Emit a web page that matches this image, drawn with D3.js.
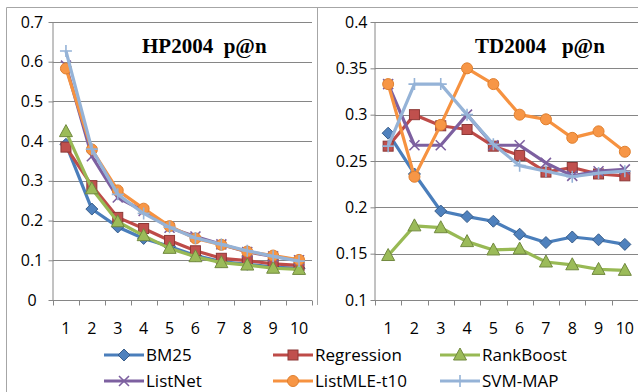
<!DOCTYPE html><meta charset="utf-8">
<style>*{margin:0}body{background:#fff}text{font-family:"Open Sans",sans-serif;fill:#000}</style>
<svg width="638" height="392"></svg>
<script src="https://d3js.org/d3.v7.min.js"></script>
<script>
const ranks = [1,2,3,4,5,6,7,8,9,10];
const names = ["BM25","Regression","RankBoost","ListNet","ListMLE-t10","SVM-MAP"];

// HP2004 p@n
const hpBM25       = [0.392,0.229,0.184,0.155,0.135,0.112,0.097,0.090,0.083,0.080];
const hpRegression = [0.385,0.288,0.208,0.180,0.150,0.124,0.105,0.099,0.091,0.087];
const hpRankBoost  = [0.424,0.280,0.197,0.162,0.130,0.109,0.094,0.088,0.080,0.077];
const hpListNet    = [0.590,0.362,0.258,0.224,0.182,0.160,0.140,0.121,0.110,0.100];
const hpListMLE    = [0.583,0.379,0.276,0.230,0.186,0.155,0.139,0.122,0.112,0.101];
const hpSVMMAP     = [0.627,0.380,0.266,0.218,0.183,0.156,0.140,0.124,0.110,0.098];

// TD2004 p@n
const tdBM25       = [0.280,0.236,0.196,0.190,0.185,0.171,0.162,0.168,0.165,0.160];
const tdRegression = [0.266,0.300,0.288,0.284,0.266,0.256,0.238,0.243,0.236,0.234];
const tdRankBoost  = [0.148,0.180,0.178,0.163,0.154,0.155,0.141,0.138,0.133,0.132];
const tdListNet    = [0.333,0.267,0.267,0.300,0.267,0.267,0.248,0.234,0.239,0.241];
const tdListMLE    = [0.333,0.233,0.289,0.350,0.333,0.300,0.295,0.275,0.282,0.260];
const tdSVMMAP     = [0.266,0.333,0.333,0.300,0.268,0.245,0.239,0.233,0.237,0.239];

const hpTicks = [0,0.1,0.2,0.3,0.4,0.5,0.6,0.7];
const tdTicks = [0.1,0.15,0.2,0.25,0.3,0.35,0.4];

const style = [
  {line:"#4A7EBB", fill:"#4F81BD", stroke:"#385D8A", m:"diamond"},
  {line:"#BE4B48", fill:"#C0504D", stroke:"#8C3836", m:"square"},
  {line:"#98B954", fill:"#9BBB59", stroke:"#71893F", m:"triangle"},
  {line:"#7D60A0", fill:"none",    stroke:"#7D60A0", m:"x"},
  {line:"#F69240", fill:"#F79646", stroke:"#E0802F", m:"circle"},
  {line:"#95B3D7", fill:"none",    stroke:"#95B3D7", m:"plus"}
];

const svg = d3.select("svg");
const grey = "#868686";

// chart frame
svg.append("path").attr("fill","none").attr("stroke","#a6a6a6")
   .attr("d","M6.5,392V7.5H638M317.5,7.5V305");

function marker(g, kind, x, y, s){
  const st = s.stroke;
  if(kind=="diamond") g.append("path").attr("d",`M${x},${y-6}L${x+6},${y}L${x},${y+6}L${x-6},${y}Z`).attr("fill",s.fill).attr("stroke",st);
  if(kind=="square") g.append("rect").attr("x",x-5).attr("y",y-5).attr("width",10).attr("height",10).attr("fill",s.fill).attr("stroke",st);
  if(kind=="triangle") g.append("path").attr("d",`M${x},${y-7}L${x+6.5},${y+5}L${x-6.5},${y+5}Z`).attr("fill",s.fill).attr("stroke",st);
  if(kind=="circle") g.append("circle").attr("cx",x).attr("cy",y).attr("r",5.5).attr("fill",s.fill).attr("stroke",st);
  if(kind=="x") g.append("path").attr("d",`M${x-5},${y-5}L${x+5},${y+5}M${x-5},${y+5}L${x+5},${y-5}`).attr("stroke",st).attr("stroke-width",1.6);
  if(kind=="plus") g.append("path").attr("d",`M${x-6},${y}H${x+6}M${x},${y-6}V${y+6}`).attr("stroke",st).attr("stroke-width",1.6);
}

function panel(o){
  const x = d3.scaleBand().domain(ranks).range([o.x0,o.x1]);
  const y = d3.scaleLinear().domain(o.dom).range([300,22]);
  const g = svg.append("g");

  g.selectAll(".grid").data(o.ticks.slice(1)).join("line")
   .attr("x1",o.x0).attr("x2",o.x1)
   .attr("y1",d=>Math.round(y(d))+.5).attr("y2",d=>Math.round(y(d))+.5)
   .attr("stroke",grey);

  // y axis
  const ya = g.append("g").attr("transform",`translate(${o.x0+.5},0)`)
    .call(d3.axisLeft(y).tickValues(o.ticks).tickSize(5).tickPadding(6)
            .tickFormat(d=>+d.toFixed(2)+""));
  ya.select(".domain").attr("stroke",grey).attr("d",`M-0.5,${y(o.dom[0])}V${y(o.dom[1])}`);
  ya.selectAll(".tick line").attr("stroke",grey);
  ya.selectAll("text").attr("font-size",16).attr("fill","#000")
    .attr("text-anchor",o.anchor).attr("x",o.anchor=="middle"?o.labelMid-(o.x0+.5):-8);

  // x axis
  const xa = g.append("g").attr("transform",`translate(0,${y(o.dom[0])+.5})`)
    .call(d3.axisBottom(x).tickSize(0).tickPadding(22));
  xa.select(".domain").attr("stroke",grey).attr("d",`M${o.x0},0H${o.x1}`);
  xa.selectAll("text").attr("font-size",16).attr("fill","#000");
  xa.selectAll(".bt").data(d3.range(11)).join("line").attr("class","bt")
    .attr("x1",i=>Math.round(o.x0+i*x.step())+.5).attr("x2",i=>Math.round(o.x0+i*x.step())+.5)
    .attr("y1",0).attr("y2",5).attr("stroke",grey);

  g.append("text").attr("x",o.tx).attr("y",53)
   .style("font-family","'Liberation Serif',serif").attr("font-weight","bold").attr("font-size",21)
   .style("white-space","pre").text(o.title);

  const line = d3.line().x((d,i)=>x(ranks[i])+x.bandwidth()/2).y(d=>y(d));
  o.data.forEach((vals,k)=>{
    const s = style[k];
    const sg = g.append("g");
    sg.append("path").attr("d",line(vals)).attr("fill","none")
      .attr("stroke",s.line).attr("stroke-width",3.2).attr("stroke-linejoin","round");
    vals.forEach((v,i)=>marker(sg,s.m,x(ranks[i])+x.bandwidth()/2,y(v),s));
  });
}

panel({x0:53,x1:312,dom:[0,0.7],ticks:hpTicks,anchor:"middle",labelMid:32,
       title:"HP2004  p@n",tx:142,
       data:[hpBM25,hpRegression,hpRankBoost,hpListNet,hpListMLE,hpSVMMAP]});
panel({x0:375,x1:638,dom:[0.1,0.4],ticks:tdTicks,anchor:"end",
       title:"TD2004   p@n",tx:475,
       data:[tdBM25,tdRegression,tdRankBoost,tdListNet,tdListMLE,tdSVMMAP]});

// legend
const colX = [104,273,440], rowY = [355,381];
names.forEach((n,k)=>{
  const lx = colX[k%3], ly = rowY[Math.floor(k/3)], s = style[k];
  const lg = svg.append("g");
  lg.append("line").attr("x1",lx).attr("x2",lx+40).attr("y1",ly).attr("y2",ly)
    .attr("stroke",s.line).attr("stroke-width",3.2);
  marker(lg,s.m,lx+20,ly,s);
  lg.append("text").attr("x",lx+42).attr("y",ly+6).attr("font-size",17).text(n);
});
</script>
